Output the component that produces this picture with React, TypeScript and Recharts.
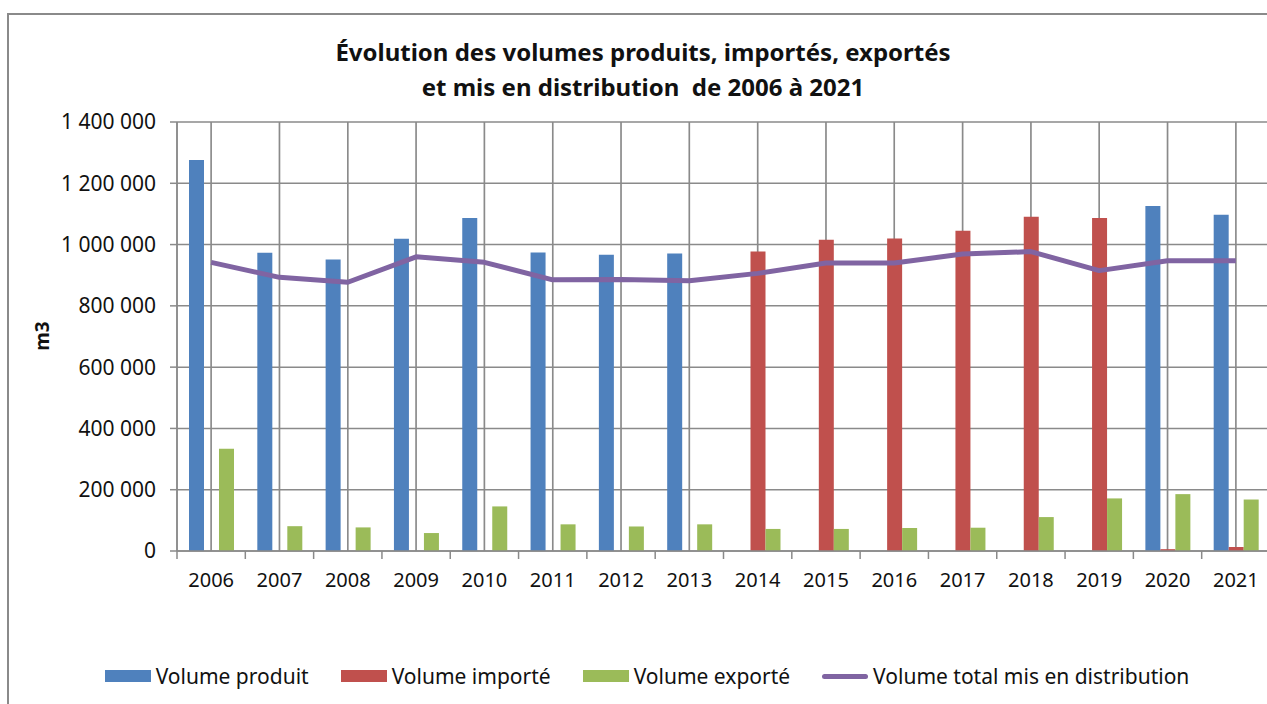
import { Bar, CartesianGrid, ComposedChart, Line, XAxis, YAxis } from 'recharts'

const years = ['2006', '2007', '2008', '2009', '2010', '2011', '2012', '2013', '2014', '2015', '2016', '2017', '2018', '2019', '2020', '2021']
const volumeProduit = [1276000, 973000, 951000, 1019000, 1087000, 974000, 967000, 971000, null, null, null, null, null, null, 1126000, 1097000]
const volumeImporte = [null, null, null, null, null, null, null, null, 977000, 1016000, 1020000, 1045000, 1091000, 1087000, 6000, 13000]
const volumeExporte = [334000, 81000, 77000, 58600, 145500, 87000, 80000, 87000, 72000, 72000, 75000, 76000, 110700, 171600, 185600, 168000]
const volumeTotal = [942000, 893000, 877000, 960000, 942000, 885000, 886000, 882000, 906000, 940000, 940000, 969000, 977000, 915000, 947000, 947000]
const yTicks = [0, 200000, 400000, 600000, 800000, 1000000, 1200000, 1400000]

const data = years.map((year, i) => ({
  year,
  produit: volumeProduit[i],
  importe: volumeImporte[i],
  exporte: volumeExporte[i],
  total: volumeTotal[i],
}))

const FONT = "'Noto Sans', sans-serif"
const DARK = '#8a8a8a'
const LIGHT = '#c4c4c4'
const CHART_W = 1290
const MARGIN = { top: 122, right: 20, bottom: 113, left: 0 }
const Y_W = 177
const PLOT_LEFT = MARGIN.left + Y_W
const PLOT_W = CHART_W - MARGIN.right - PLOT_LEFT
const STEP = PLOT_W / years.length

// light minor gridlines sit in the middle of each category
const centerLines = years.map((_, i) => PLOT_LEFT + (i + 0.5) * STEP)

const fmt = (v: number) => String(v).replace(/\B(?=(\d{3})+(?!\d))/g, ' ')

function YearTick({ x, y, payload }: any) {
  const bx = x - STEP / 2
  return (
    <g>
      <line x1={bx} y1={y} x2={bx} y2={y + 8} stroke={DARK} strokeWidth={1.5} />
      <text x={x} y={y + 36} textAnchor="middle" fontSize={20} fontFamily={FONT} fill="#111">
        {payload.value}
      </text>
    </g>
  )
}

const legendItems = [
  { label: 'Volume produit', color: '#4F81BD', line: false },
  { label: 'Volume importé', color: '#C0504D', line: false },
  { label: 'Volume exporté', color: '#9BBB59', line: false },
  { label: 'Volume total mis en distribution', color: '#8064A2', line: true },
]

export default function App() {
  return (
    <div style={{ position: 'absolute', left: 0, top: 0, width: 1267, height: 704, overflow: 'hidden', background: '#fff', fontFamily: FONT }}>
      <div style={{ position: 'absolute', left: 7, top: 13, width: 1400, height: 800, border: `2px solid ${DARK}` }} />
      <div style={{ position: 'absolute', left: 0, top: 34, width: 1286, textAlign: 'center', fontSize: 24, fontWeight: 700, lineHeight: '35px', color: '#111' }}>
        Évolution des volumes produits, importés, exportés
        <br />
        et mis en distribution&nbsp; de 2006 à 2021
      </div>
      <div style={{ position: 'absolute', left: 42, top: 336, transform: 'translate(-50%, -50%) rotate(-90deg)', fontSize: 19, fontWeight: 700, color: '#111' }}>
        m3
      </div>
      <div style={{ position: 'absolute', left: 0, top: 0 }}>
        <ComposedChart width={CHART_W} height={704} data={data} margin={MARGIN} barGap={0}>
          <CartesianGrid horizontal={false} verticalPoints={centerLines} stroke={LIGHT} strokeWidth={1.5} />
          <CartesianGrid stroke={DARK} strokeWidth={1.5} />
          <XAxis dataKey="year" height={40} tickSize={0} tickMargin={0} tick={<YearTick />} axisLine={{ stroke: DARK, strokeWidth: 1.5 }} interval={0} />
          <YAxis
            width={Y_W}
            domain={[0, 1400000]}
            ticks={yTicks}
            tickFormatter={fmt}
            tickSize={7}
            tickMargin={14}
            tickLine={{ stroke: DARK, strokeWidth: 1.5 }}
            axisLine={{ stroke: DARK, strokeWidth: 1.5 }}
            tick={{ fontSize: 21, fontFamily: FONT, fill: '#111' }}
          />
          <Bar dataKey="produit" fill="#4F81BD" barSize={15} isAnimationActive={false} />
          <Bar dataKey="importe" fill="#C0504D" barSize={15} isAnimationActive={false} />
          <Bar dataKey="exporte" fill="#9BBB59" barSize={15} isAnimationActive={false} />
          <Line dataKey="total" type="linear" stroke="#8064A2" strokeWidth={5} dot={false} strokeLinejoin="round" isAnimationActive={false} />
        </ComposedChart>
      </div>
      <div style={{ position: 'absolute', left: 0, top: 663, width: 1294, height: 26, display: 'flex', justifyContent: 'center', alignItems: 'center', gap: 32, fontSize: 21, color: '#111' }}>
        {legendItems.map((it) => (
          <div key={it.label} style={{ display: 'flex', alignItems: 'center', gap: 5 }}>
            {it.line ? (
              <div style={{ width: 46, height: 5, borderRadius: 3, background: it.color }} />
            ) : (
              <div style={{ width: 46, height: 12, background: it.color }} />
            )}
            <span>{it.label}</span>
          </div>
        ))}
      </div>
    </div>
  )
}
